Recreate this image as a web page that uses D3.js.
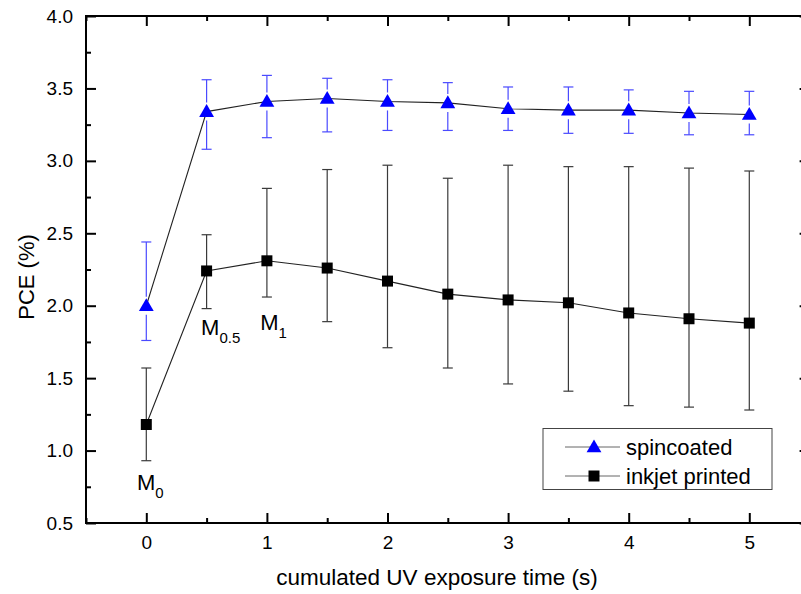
<!DOCTYPE html>
<html>
<head>
<meta charset="utf-8">
<script src="https://cdn.jsdelivr.net/npm/d3@7"></script>
<style>
  body { margin: 0; background: #fff; }
  text { font-family: "Liberation Sans", Arial, sans-serif; }
</style>
</head>
<body>
<div id="chart"></div>
<script>
// exposure times (s)
var times = [0, 0.5, 1, 1.5, 2, 2.5, 3, 3.5, 4, 4.5, 5];

// spincoated PCE (%) with error bar ends
var spinMean = [2.00, 3.34, 3.41, 3.43, 3.41, 3.40, 3.36, 3.35, 3.35, 3.33, 3.32];
var spinHi   = [2.44, 3.56, 3.59, 3.57, 3.56, 3.54, 3.51, 3.51, 3.49, 3.48, 3.48];
var spinLo   = [1.76, 3.08, 3.16, 3.20, 3.21, 3.21, 3.21, 3.19, 3.19, 3.18, 3.18];

// inkjet printed PCE (%) with error bar ends
var inkMean = [1.18, 2.24, 2.31, 2.26, 2.17, 2.08, 2.04, 2.02, 1.95, 1.91, 1.88];
var inkHi   = [1.57, 2.49, 2.81, 2.94, 2.97, 2.88, 2.97, 2.96, 2.96, 2.95, 2.93];
var inkLo   = [0.93, 1.98, 2.06, 1.89, 1.71, 1.57, 1.46, 1.41, 1.31, 1.30, 1.28];

var xTicks = [0, 1, 2, 3, 4, 5];
var yTicks = [0.5, 1.0, 1.5, 2.0, 2.5, 3.0, 3.5, 4.0];

// sample labels: main letter, subscript, anchor in data coords
var notes = [
  {main: "M", sub: "0",   x: -0.077, y: 0.73},
  {main: "M", sub: "0.5", x: 0.454,  y: 1.80},
  {main: "M", sub: "1",   x: 0.945,  y: 1.835}
];

var width = 801, height = 594;
var margin = {top: 16, left: 86};
var plotW = 723.6, plotH = 507;

var svg = d3.select("#chart").append("svg")
    .attr("width", width)
    .attr("height", height);

var x = d3.scaleLinear().domain([-0.5, 5.5]).range([margin.left, margin.left + plotW]);
var y = d3.scaleLinear().domain([0.5, 4.0]).range([margin.top + plotH, margin.top]);

var minorX = d3.range(-0.5, 5.51, 0.5).filter(function(d) { return xTicks.indexOf(d) < 0; });
var minorY = d3.range(0.75, 4.0, 0.5);

// axes (ticks pointing inward)
function styleAxis(g) {
  g.select(".domain").remove();
  g.selectAll(".tick line").attr("stroke", "#000").attr("stroke-width", 2);
  g.selectAll(".tick text").attr("font-size", 19).attr("fill", "#000")
    .style("font-family", "'Liberation Sans', Arial, sans-serif");
}

svg.append("g").attr("transform", "translate(0," + y(0.5) + ")")
  .call(d3.axisBottom(x).tickValues(xTicks).tickFormat(d3.format("d"))
        .tickSizeInner(-10).tickSizeOuter(0).tickPadding(13))
  .call(styleAxis);
svg.append("g").attr("transform", "translate(0," + y(0.5) + ")")
  .call(d3.axisBottom(x).tickValues(minorX).tickFormat("").tickSizeInner(-5).tickSizeOuter(0))
  .call(styleAxis);

svg.append("g").attr("transform", "translate(0," + y(4.0) + ")")
  .call(d3.axisTop(x).tickValues(xTicks).tickFormat("").tickSizeInner(-10).tickSizeOuter(0))
  .call(styleAxis);
svg.append("g").attr("transform", "translate(0," + y(4.0) + ")")
  .call(d3.axisTop(x).tickValues(minorX).tickFormat("").tickSizeInner(-5).tickSizeOuter(0))
  .call(styleAxis);

svg.append("g").attr("transform", "translate(" + x(-0.5) + ",0)")
  .call(d3.axisLeft(y).tickValues(yTicks).tickFormat(d3.format(".1f"))
        .tickSizeInner(-10).tickSizeOuter(0).tickPadding(13))
  .call(styleAxis);
svg.append("g").attr("transform", "translate(" + x(-0.5) + ",0)")
  .call(d3.axisLeft(y).tickValues(minorY).tickFormat("").tickSizeInner(-5).tickSizeOuter(0))
  .call(styleAxis);

svg.append("g").attr("transform", "translate(" + x(5.5) + ",0)")
  .call(d3.axisRight(y).tickValues(yTicks).tickFormat("").tickSizeInner(-10).tickSizeOuter(0))
  .call(styleAxis);
svg.append("g").attr("transform", "translate(" + x(5.5) + ",0)")
  .call(d3.axisRight(y).tickValues(minorY).tickFormat("").tickSizeInner(-5).tickSizeOuter(0))
  .call(styleAxis);

// frame
svg.append("rect")
  .attr("x", x(-0.5)).attr("y", y(4.0))
  .attr("width", x(5.5) - x(-0.5)).attr("height", y(0.5) - y(4.0))
  .attr("fill", "none").attr("stroke", "#000").attr("stroke-width", 2);

// axis titles
svg.append("text")
  .attr("x", 437).attr("y", 585)
  .attr("text-anchor", "middle").attr("font-size", 22.5)
  .text("cumulated UV exposure time (s)");

svg.append("text")
  .attr("transform", "translate(34,277) rotate(-90)")
  .attr("text-anchor", "middle").attr("font-size", 22)
  .text("PCE (%)");

function series(mean, hi, lo, barColor, gap) {
  var pts = times.map(function(t, i) { return {t: t, m: mean[i], hi: hi[i], lo: lo[i]}; });
  var g = svg.append("g");

  // error bars
  pts.forEach(function(d) {
    var cx = x(d.t);
    g.append("line").attr("x1", cx).attr("x2", cx)
      .attr("y1", y(d.hi)).attr("y2", y(d.m) - gap)
      .attr("stroke", barColor).attr("stroke-width", 1.2);
    g.append("line").attr("x1", cx).attr("x2", cx)
      .attr("y1", y(d.m) + gap).attr("y2", y(d.lo))
      .attr("stroke", barColor).attr("stroke-width", 1.2);
    [d.hi, d.lo].forEach(function(v) {
      g.append("line").attr("x1", cx - 5).attr("x2", cx + 5)
        .attr("y1", y(v)).attr("y2", y(v))
        .attr("stroke", barColor).attr("stroke-width", 1.2);
    });
  });

  // connecting line
  g.append("path")
    .datum(pts)
    .attr("fill", "none")
    .attr("stroke", "#222")
    .attr("stroke-width", 1.1)
    .attr("d", d3.line().x(function(d) { return x(d.t); }).y(function(d) { return y(d.m); }));

  return {g: g, pts: pts};
}

var spin = series(spinMean, spinHi, spinLo, "#4a4aff", 9);
var ink = series(inkMean, inkHi, inkLo, "#3a3a3a", 0);

var triangle = d3.symbol().type(d3.symbolTriangle).size(95);
var square = d3.symbol().type(d3.symbolSquare).size(121);

spin.g.selectAll(".tri").data(spin.pts).enter().append("path")
  .attr("transform", function(d) { return "translate(" + x(d.t) + "," + (y(d.m) + 1) + ")"; })
  .attr("d", triangle)
  .attr("fill", "#0000ff");

ink.g.selectAll(".sq").data(ink.pts).enter().append("path")
  .attr("transform", function(d) { return "translate(" + x(d.t) + "," + y(d.m) + ")"; })
  .attr("d", square)
  .attr("fill", "#000");

// sample labels
var lab = svg.selectAll(".note").data(notes).enter().append("text")
  .attr("x", function(d) { return x(d.x); })
  .attr("y", function(d) { return y(d.y); })
  .attr("font-size", 22);
lab.append("tspan").text(function(d) { return d.main; });
lab.append("tspan").attr("dy", 8).attr("font-size", 15).text(function(d) { return d.sub; });

// legend
var leg = svg.append("g");
leg.append("rect")
  .attr("x", 543).attr("y", 428.5).attr("width", 229).attr("height", 61)
  .attr("fill", "#fff").attr("stroke", "#444").attr("stroke-width", 1);

var legItems = [
  {name: "spincoated", sym: triangle, color: "#0000ff", cy: 447, dy: 1},
  {name: "inkjet printed", sym: square, color: "#000", cy: 476, dy: 0}
];
legItems.forEach(function(d) {
  leg.append("line").attr("x1", 565).attr("x2", 620)
    .attr("y1", d.cy).attr("y2", d.cy)
    .attr("stroke", "#666").attr("stroke-width", 1);
  leg.append("path").attr("d", d.sym)
    .attr("transform", "translate(594," + (d.cy + d.dy) + ")")
    .attr("fill", d.color);
  leg.append("text").attr("x", 626).attr("y", d.cy + 8)
    .attr("font-size", 22).text(d.name);
});
</script>
</body>
</html>
